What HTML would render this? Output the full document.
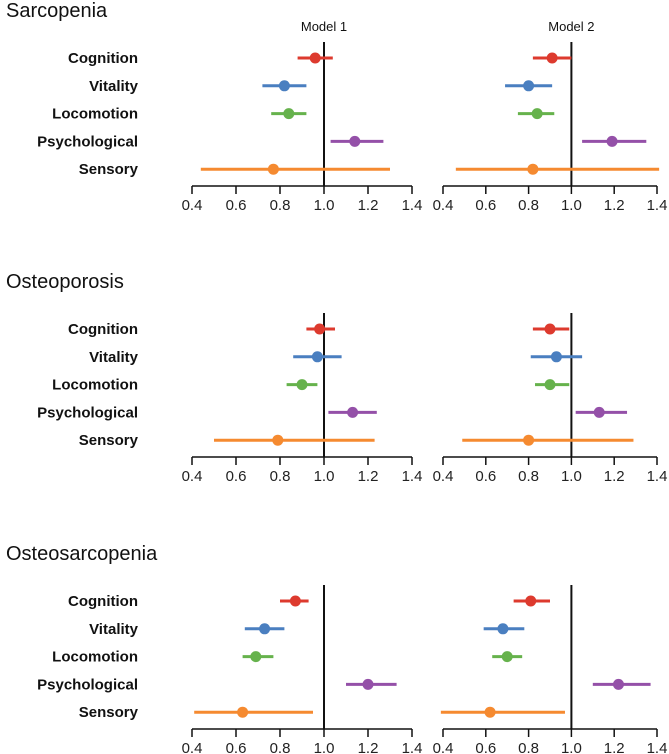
<!DOCTYPE html>
<html><head><meta charset="utf-8"><style>
body{margin:0;background:#fff}
svg{display:block;font-family:"Liberation Sans",Arial,sans-serif}
</style></head><body>
<svg id="chart" width="669" height="754" viewBox="0 0 669 754" xmlns="http://www.w3.org/2000/svg"></svg>
<script>
const panels = ["Sarcopenia","Osteoporosis","Osteosarcopenia"];
const domains = ["Cognition","Vitality","Locomotion","Psychological","Sensory"];
const colors = ["#dd3a2e","#4a7fc0","#66b24c","#9450a8","#f58a30"];
const ticks = [0.4,0.6,0.8,1.0,1.2,1.4];
const tickLabels = ["0.4","0.6","0.8","1.0","1.2","1.4"];
const models = ["Model 1","Model 2"];
// Sarcopenia
const sarcM1Est = [0.96,0.82,0.84,1.14,0.77];
const sarcM1Lo  = [0.88,0.72,0.76,1.03,0.44];
const sarcM1Hi  = [1.04,0.92,0.92,1.27,1.30];
const sarcM2Est = [0.91,0.80,0.84,1.19,0.82];
const sarcM2Lo  = [0.82,0.69,0.75,1.05,0.46];
const sarcM2Hi  = [1.00,0.91,0.92,1.35,1.41];
// Osteoporosis
const ostM1Est = [0.98,0.97,0.90,1.13,0.79];
const ostM1Lo  = [0.92,0.86,0.83,1.02,0.50];
const ostM1Hi  = [1.05,1.08,0.97,1.24,1.23];
const ostM2Est = [0.90,0.93,0.90,1.13,0.80];
const ostM2Lo  = [0.82,0.81,0.83,1.02,0.49];
const ostM2Hi  = [0.99,1.05,0.99,1.26,1.29];
// Osteosarcopenia
const osM1Est = [0.87,0.73,0.69,1.20,0.63];
const osM1Lo  = [0.80,0.64,0.63,1.10,0.41];
const osM1Hi  = [0.93,0.82,0.77,1.33,0.95];
const osM2Est = [0.81,0.68,0.70,1.22,0.62];
const osM2Lo  = [0.73,0.59,0.63,1.10,0.39];
const osM2Hi  = [0.90,0.78,0.77,1.37,0.97];

const data = [
 [[sarcM1Est,sarcM1Lo,sarcM1Hi],[sarcM2Est,sarcM2Lo,sarcM2Hi]],
 [[ostM1Est,ostM1Lo,ostM1Hi],[ostM2Est,ostM2Lo,ostM2Hi]],
 [[osM1Est,osM1Lo,osM1Hi],[osM2Est,osM2Lo,osM2Hi]]
];
const svg = document.getElementById('chart');
const NS = "http://www.w3.org/2000/svg";
function mk(tag, attrs, parent){const e=document.createElementNS(NS,tag);for(const k in attrs)e.setAttribute(k,attrs[k]);(parent||svg).appendChild(e);return e;}
const axisY = [186,457,729];
const xRange = [[192,412],[443,657]];
function xScale(m,v){const r=xRange[m];return r[0]+(v-0.4)/(1.0)*(r[1]-r[0]);}
function rowY(p,i){return axisY[p]-128+i*27.8;}

panels.forEach((pn,p)=>{
  const g=mk('g',{});
  
  
  const t=mk('text',{x:6,y:axisY[p]-169,'font-size':20,fill:'#111'},g);
  t.textContent=pn;
  
  
  domains.forEach((d,i)=>{
    const l=mk('text',{x:138,y:rowY(p,i)+5,'font-size':15,'font-weight':'bold','text-anchor':'end',fill:'#111'},g);
    l.textContent=d;
    
    
  });
  for(let m=0;m<2;m++){
    if(p===0){
      const mt=mk('text',{x:xScale(m,1.0),y:31,'font-size':13,'text-anchor':'middle',fill:'#111'},g);
      mt.textContent=models[m];
      
      
    }
    const ay=axisY[p];
    const ax=mk('line',{x1:xRange[m][0],x2:xRange[m][1],y1:ay,y2:ay,stroke:'#111','stroke-width':1.5},g);
    
    
    ticks.forEach((tv,k)=>{
      const x=xScale(m,tv);
      mk('line',{x1:x,x2:x,y1:ay,y2:ay+8,stroke:'#111','stroke-width':1.5},g);
      const tl=mk('text',{x:x,y:ay+24,'font-size':15,'text-anchor':'middle',fill:'#222'},g);
      tl.textContent=tickLabels[k];
      
      
    });
    const rl=mk('line',{x1:xScale(m,1.0),x2:xScale(m,1.0),y1:ay-144,y2:ay,stroke:'#111','stroke-width':2},g);
    
    
    const [est,lo,hi]=data[p][m];
    domains.forEach((d,i)=>{
      const y=rowY(p,i);
      const ci=mk('line',{x1:xScale(m,lo[i]),x2:xScale(m,hi[i]),y1:y,y2:y,stroke:colors[i],'stroke-width':3},g);
      
      
      const c=mk('circle',{cx:xScale(m,est[i]),cy:y,r:5.5,fill:colors[i]},g);
      
      
    });
  }
});
</script>
</body></html>
